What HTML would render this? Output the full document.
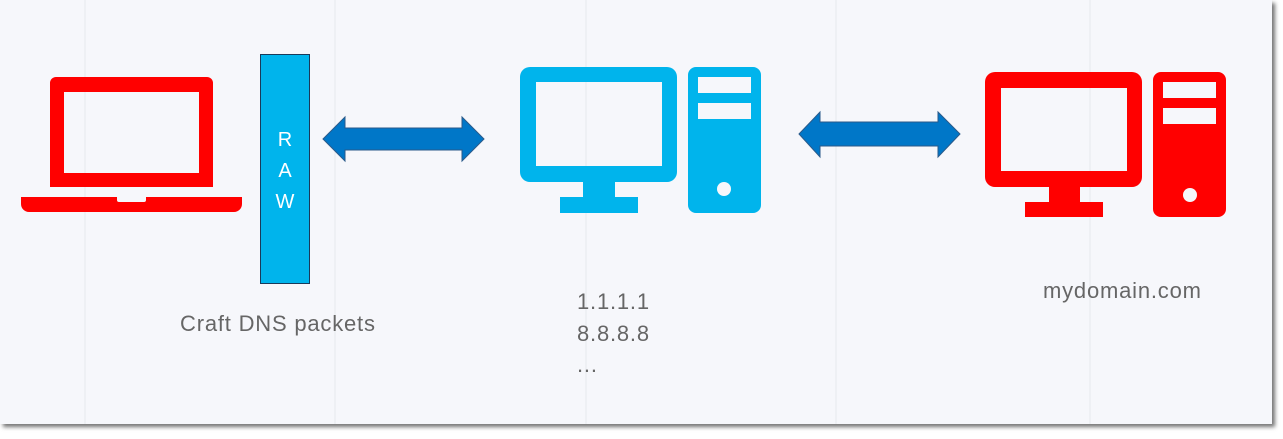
<!DOCTYPE html>
<html><head><style>
html,body{margin:0;padding:0;background:#fff;}
#p{position:absolute;left:0;top:0;width:1272px;height:424px;background:#f6f7fb;box-shadow:3px 3px 4px rgba(0,0,0,0.55);overflow:hidden;}
.t{position:absolute;font-family:"Liberation Sans",sans-serif;color:#666;font-size:22px;letter-spacing:0.8px;}
</style></head><body>
<div id="p">
<svg width="1272" height="424" style="position:absolute;left:0;top:0">
<g stroke="#e6e8ee" stroke-width="1">
<line x1="85" y1="0" x2="85" y2="424"/><line x1="335" y1="0" x2="335" y2="424"/><line x1="586" y1="0" x2="586" y2="424"/><line x1="836" y1="0" x2="836" y2="424"/><line x1="1090" y1="0" x2="1090" y2="424"/>
</g>
<path fill-rule="evenodd" fill="#ff0000" d="M56 77H207A6 6 0 0 1 213 83V187H50V83A6 6 0 0 1 56 77ZM64 92V173H199V92Z"/>
<path fill="#ff0000" d="M21 197H117V200A2 2 0 0 0 119 202H144A2 2 0 0 0 146 200V197H242V204A8 8 0 0 1 234 212H29A8 8 0 0 1 21 204Z"/>
<rect x="260.5" y="54.5" width="49" height="229" fill="#00b4ec" stroke="#1a3a5a" stroke-width="1"/>
<g font-family="Liberation Sans,sans-serif" font-size="20" fill="#fff" text-anchor="middle">
<text x="285" y="146">R</text><text x="285" y="177">A</text><text x="285" y="208">W</text></g>
<path fill="#0077c8" stroke="#2a5a8a" stroke-width="1" d="M323 139L345 117V128H462V117L484 139L462 161V150H345V161Z"/>
<path fill="#0077c8" stroke="#2a5a8a" stroke-width="1" d="M799 134L820 112V122H938V112L960 134L938 157V146H820V157Z"/>
<g fill="#00b4ec">
<path fill-rule="evenodd" d="M530 67H667A10 10 0 0 1 677 77V172A10 10 0 0 1 667 182H530A10 10 0 0 1 520 172V77A10 10 0 0 1 530 67ZM536 82V166H662V82Z"/>
<rect x="583" y="182" width="32" height="16"/><rect x="560" y="197" width="78" height="16"/>
<path fill-rule="evenodd" d="M696 67H753A8 8 0 0 1 761 75V205A8 8 0 0 1 753 213H696A8 8 0 0 1 688 205V75A8 8 0 0 1 696 67ZM698 77V93H751V77ZM698 103V119H751V103Z"/>
</g>
<ellipse cx="724" cy="189" rx="7" ry="7" fill="#f6f7fb"/>
<g fill="#ff0000">
<path fill-rule="evenodd" d="M995 72H1132A10 10 0 0 1 1142 82V177A10 10 0 0 1 1132 187H995A10 10 0 0 1 985 177V82A10 10 0 0 1 995 72ZM1001 88V171H1127V88Z"/>
<rect x="1049" y="186" width="31" height="17"/><rect x="1025" y="202" width="78" height="15"/>
<path fill-rule="evenodd" d="M1161 72H1218A8 8 0 0 1 1226 80V209A8 8 0 0 1 1218 217H1161A8 8 0 0 1 1153 209V80A8 8 0 0 1 1161 72ZM1163 82V98H1216V82ZM1163 108V124H1216V108Z"/>
</g>
<ellipse cx="1190" cy="195" rx="7" ry="7" fill="#f6f7fb"/>
</svg>
<div class="t" style="left:180px;top:311px">Craft DNS packets</div>
<div class="t" style="left:577px;top:289px">1.1.1.1</div>
<div class="t" style="left:577px;top:321px">8.8.8.8</div>
<div class="t" style="left:577px;top:352px">...</div>
<div class="t" style="left:1043px;top:278px">mydomain.com</div>
</div>
</body></html>
